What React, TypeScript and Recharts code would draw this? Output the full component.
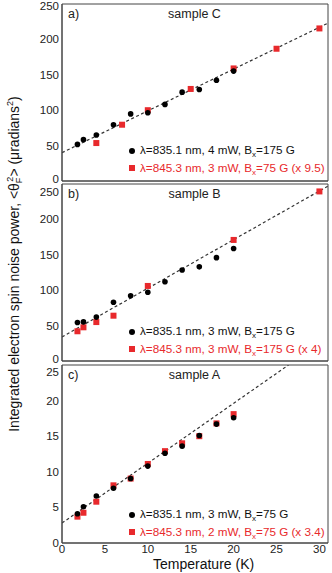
import React from 'react';
import { ComposedChart, Scatter, Line, XAxis, YAxis } from 'recharts';

// temperatures (K)
const tBlack = [1.8, 2.5, 4, 6, 8, 10, 12, 14, 16, 18, 20];
const tRedA = [4, 7, 10, 15, 20, 25, 30];
const tRedB = [1.8, 2.5, 4, 6, 10, 20, 30];
const tRedC = [1.8, 2.5, 4, 6, 8, 10, 12, 14, 16, 18, 20];

// sample C
const blackA = [51.7, 58.4, 65, 79.5, 94.8, 96.3, 108.2, 125.5, 129.3, 142.2, 155.2];
const redA = [53.6, 79.5, 100, 130, 159, 186.8, 215.5];
const fitAx = [0, 31];
const fitAy = [40, 223];

// sample B
const blackB = [54.3, 55.2, 62, 83, 92, 97, 112, 128.5, 133, 146, 159];
const redB = [42, 47.6, 55, 64, 106, 171, 239.5];
const fitBx = [0, 31];
const fitBy = [34, 247];

// sample A
const blackC = [4.1, 5.1, 6.6, 7.7, 9.05, 10.8, 12.6, 13.6, 15.1, 16.7, 17.6];
const redC = [3.7, 4.25, 5.8, 8.1, 9.05, 11.1, 12.9, 14.0, 15.0, 16.8, 18.1];
const fitCx = [0, 26.4];
const fitCy = [2.8, 25];

const xTicks = [0, 5, 10, 15, 20, 25, 30];
const yTicksBig = [0, 50, 100, 150, 200, 250];
const yTicksSmall = [0, 5, 10, 15, 20, 25];

const RED = '#e8292c';
const FRAME = '#444';
const FONT = '"Liberation Sans", Arial, sans-serif';

const pts = (xs: number[], ys: number[]) => xs.map((x, i) => ({ x, y: ys[i] }));

const Dot = (p: any) => <circle cx={p.cx} cy={p.cy} r={2.8} fill="#000" />;
const Sq = (p: any) => <rect x={p.cx - 3} y={p.cy - 3} width={6} height={6} fill={RED} />;

const Bx = () => (
  <span>
    B<span style={{ fontSize: 8, position: 'relative', top: 3 }}>x</span>
  </span>
);

interface PanelProps {
  top: number;
  height: number;
  margin: { top: number; right: number; bottom: number; left: number };
  yMax: number;
  yTicks: number[];
  topShift: number;
  zeroShift: number;
  showX: boolean;
  black: number[];
  redT: number[];
  red: number[];
  fit: { x: number; y: number }[];
  tag: string;
  sample: string;
  tagTop: number;
  legendTop: number;
  line1: React.ReactNode;
  line2: React.ReactNode;
}

const Panel: React.FC<PanelProps> = (p) => {
  const yTick = (props: any) => {
    const v = props.payload.value;
    const shift = v === p.yMax ? p.topShift : v === 0 ? p.zeroShift : 0;
    return (
      <text x={props.x} y={props.y + shift} dy="0.35em"
        textAnchor="end" fontSize={11.5} fill="#222">{v}</text>
    );
  };
  return (
    <div style={{ position: 'absolute', left: 0, top: p.top, width: 332, height: p.height, fontFamily: FONT }}>
      <ComposedChart width={332} height={p.height} margin={p.margin}>
        {/* labelled axes */}
        <XAxis type="number" dataKey="x" domain={[0, 31]} ticks={xTicks} interval={0}
          height={p.showX ? 30 : 1} tick={p.showX ? { fontSize: 11.5, fill: '#222' } : false}
          tickLine={false} tickSize={0} tickMargin={2} stroke={FRAME} allowDataOverflow />
        <YAxis type="number" dataKey="y" domain={[0, p.yMax]} ticks={p.yTicks} interval={0} width={30}
          tick={yTick} tickLine={false} tickSize={0} tickMargin={3} stroke={FRAME} allowDataOverflow />
        {/* inward tick marks on all four sides */}
        <XAxis xAxisId="bottomTicks" orientation="bottom" type="number" dataKey="x" domain={[0, 31]}
          ticks={xTicks} interval={0} height={1} mirror tick={false} tickSize={4} stroke={FRAME} allowDataOverflow />
        <XAxis xAxisId="top" orientation="top" type="number" dataKey="x" domain={[0, 31]}
          ticks={xTicks} interval={0} height={1} mirror tick={false} tickSize={4} stroke={FRAME} allowDataOverflow />
        <YAxis yAxisId="leftTicks" orientation="left" type="number" dataKey="y" domain={[0, p.yMax]} ticks={p.yTicks}
          interval={0} width={1} mirror tick={false} tickSize={4} stroke={FRAME} allowDataOverflow />
        <YAxis yAxisId="right" orientation="right" type="number" dataKey="y" domain={[0, p.yMax]} ticks={p.yTicks}
          interval={0} width={1} mirror tick={false} tickSize={4} stroke={FRAME} allowDataOverflow />
        <Line data={p.fit} dataKey="y" stroke="#333" strokeWidth={1.2} strokeDasharray="3 2.5"
          dot={false} activeDot={false} isAnimationActive={false} />
        <Scatter data={pts(p.redT, p.red)} dataKey="y" shape={Sq} isAnimationActive={false} />
        <Scatter data={pts(tBlack, p.black)} dataKey="y" shape={Dot} isAnimationActive={false} />
      </ComposedChart>
      <div style={{ position: 'absolute', left: 68, top: p.tagTop, fontSize: 12.5, color: '#222' }}>{p.tag}</div>
      <div style={{ position: 'absolute', left: 62, width: 265, top: p.tagTop, fontSize: 12.5, color: '#222', textAlign: 'center' }}>
        {p.sample}
      </div>
      <div style={{ position: 'absolute', left: 129, top: p.legendTop, fontSize: 11.7, lineHeight: '15.5px', whiteSpace: 'nowrap' }}>
        <div style={{ color: '#111', display: 'flex', alignItems: 'center' }}>
          <span style={{ display: 'inline-block', width: 6, height: 6, borderRadius: 3, background: '#000', marginRight: 5 }} />
          {p.line1}
        </div>
        <div style={{ color: RED, display: 'flex', alignItems: 'center' }}>
          <span style={{ display: 'inline-block', width: 6, height: 6, background: RED, marginRight: 5 }} />
          {p.line2}
        </div>
      </div>
    </div>
  );
};

export default function App() {
  return (
    <div style={{ position: 'absolute', left: 0, top: 0, width: 332, height: 573, background: '#fff', overflow: 'hidden' }}>
      <Panel top={0} height={190} margin={{ top: 4, right: 4, bottom: 8, left: 32 }} yMax={250}
        yTicks={yTicksBig} topShift={1.5} zeroShift={-2} showX={false} black={blackA} redT={tRedA} red={redA}
        fit={pts(fitAx, fitAy)} tag="a)" sample="sample C" tagTop={7} legendTop={142}
        line1={<span>λ=835.1 nm, 4 mW, <Bx />=175 G</span>}
        line2={<span>λ=845.3 nm, 3 mW, <Bx />=75 G (x 9.5)</span>} />
      <Panel top={176} height={192} margin={{ top: 8, right: 4, bottom: 6, left: 32 }} yMax={250}
        yTicks={yTicksBig} topShift={8} zeroShift={-2} showX={false} black={blackB} redT={tRedB} red={redB}
        fit={pts(fitBx, fitBy)} tag="b)" sample="sample B" tagTop={11} legendTop={147}
        line1={<span>λ=835.1 nm, 3 mW, <Bx />=175 G</span>}
        line2={<span>λ=845.3 nm, 3 mW, <Bx />=175 G (x 4)</span>} />
      <Panel top={356} height={217} margin={{ top: 9, right: 4, bottom: 0, left: 32 }} yMax={25}
        yTicks={yTicksSmall} topShift={7} zeroShift={0} showX={true} black={blackC} redT={tRedC} red={redC}
        fit={pts(fitCx, fitCy)} tag="c)" sample="sample A" tagTop={12} legendTop={150}
        line1={<span>λ=835.1 nm, 3 mW, <Bx />=75 G</span>}
        line2={<span>λ=845.3 nm, 2 mW, <Bx />=75 G (x 3.4)</span>} />
      <div style={{ position: 'absolute', left: 153, top: 557, fontFamily: FONT, fontSize: 14, lineHeight: '14px', color: '#111' }}>
        Temperature (K)
      </div>
      <svg style={{ position: 'absolute', left: 0, top: 0 }} width={30} height={573}>
        <text transform="translate(19, 264) rotate(-90)" textAnchor="middle" fontFamily={FONT} fontSize={14} fill="#111">
          Integrated electron spin noise power, &lt;θ
          <tspan fontSize={9} dy={3}>F</tspan>
          <tspan fontSize={9} dx={-4} dy={-9}>2</tspan>
          <tspan dy={6}>&gt; (μradians</tspan>
          <tspan fontSize={9} dy={-6}>2</tspan>
          <tspan dy={6}>)</tspan>
        </text>
      </svg>
    </div>
  );
}
